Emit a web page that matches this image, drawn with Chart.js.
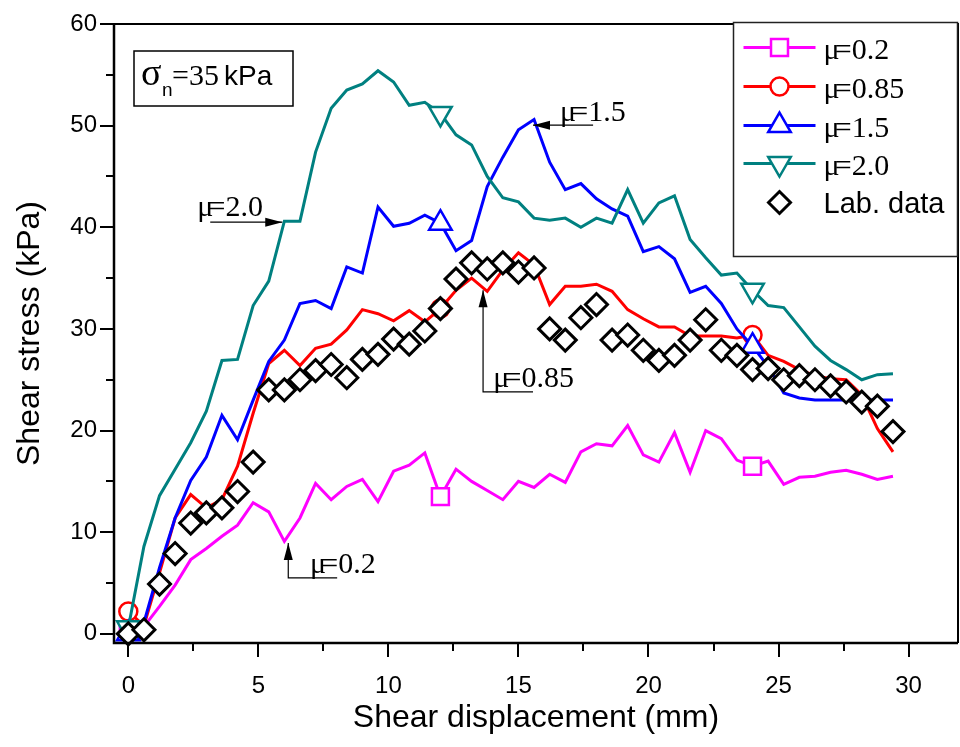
<!DOCTYPE html>
<html>
<head>
<meta charset="utf-8">
<title>Shear stress vs shear displacement</title>
<script src="https://cdn.jsdelivr.net/npm/chart.js@4.4.1/dist/chart.umd.min.js"></script>
<style>
  html, body { margin: 0; padding: 0; background: #fff; }
  #wrap { width: 960px; height: 747px; }
</style>
</head>
<body>
<div id="wrap"><canvas id="shearChart" width="960" height="747"></canvas></div>
<script>
// shear displacement (mm), same steps for every series
const displacement = [0, 0.6, 1.2, 1.8, 2.4, 3.0, 3.6, 4.2, 4.8, 5.4,
  6.0, 6.6, 7.2, 7.8, 8.4, 9.0, 9.6, 10.2, 10.8, 11.4,
  12.0, 12.6, 13.2, 13.8, 14.4, 15.0, 15.6, 16.2, 16.8, 17.4,
  18.0, 18.6, 19.2, 19.8, 20.4, 21.0, 21.6, 22.2, 22.8, 23.4,
  24.0, 24.6, 25.2, 25.8, 26.4, 27.0, 27.6, 28.2, 28.8, 29.4];

// shear stress (kPa)
const mu02 = [0.3, 0.7, 2.7, 4.8, 7.3, 8.4, 9.6, 10.7, 12.9, 12.0,
  9.1, 11.4, 14.8, 13.2, 14.5, 15.2, 13.0, 16.0, 16.6, 17.8,
  13.5, 16.2, 15.0, 14.1, 13.2, 15.0, 14.4, 15.7, 14.9, 17.9,
  18.7, 18.5, 20.5, 17.6, 16.9, 19.8, 15.9, 20.0, 19.2, 17.1,
  16.5, 17.0, 14.7, 15.4, 15.5, 15.9, 16.1, 15.7, 15.2, 15.5];
const mu085 = [2.2, 0.8, 6.0, 11.4, 13.7, 12.4, 13.2, 16.5, 21.7, 26.6,
  27.9, 26.4, 28.1, 28.5, 29.9, 31.9, 31.5, 30.8, 31.8, 30.7,
  32.0, 33.8, 35.0, 33.7, 35.8, 37.5, 36.3, 32.4, 34.2, 34.2,
  34.4, 33.7, 31.9, 31.0, 30.2, 30.2, 29.3, 29.3, 29.3, 29.1,
  29.4, 27.4, 26.8, 26.0, 25.4, 25.1, 25.0, 23.5, 20.2, 17.9];
const mu15 = [0, 1.1, 6.5, 11.4, 15.1, 17.4, 21.5, 19.1, 23.0, 26.8,
  28.9, 32.5, 32.8, 32.0, 36.1, 35.5, 42.0, 40.1, 40.4, 41.2,
  40.4, 37.7, 38.7, 44.0, 46.9, 49.6, 50.6, 46.4, 43.7, 44.3,
  42.8, 41.8, 41.1, 37.6, 38.1, 36.9, 33.6, 34.2, 32.5, 30.0,
  28.3, 26.3, 23.7, 23.2, 23.0, 23.0, 23.0, 23.0, 23.0, 23.0];
const mu20 = [0.6, 8.6, 13.6, 16.2, 18.8, 21.9, 26.9, 27.0, 32.3, 34.7,
  40.6, 40.6, 47.4, 51.7, 53.5, 54.1, 55.4, 54.3, 52.0, 52.3,
  51.2, 49.1, 48.1, 45.0, 42.9, 42.5, 40.9, 40.7, 40.9, 40.0,
  40.9, 40.4, 43.7, 40.4, 42.4, 43.1, 38.8, 37.0, 35.3, 35.5,
  33.8, 32.3, 32.1, 30.2, 28.3, 26.9, 26.0, 25.0, 25.5, 25.6];
const labData = [0, 0.4, 4.9, 7.9, 10.9, 11.9, 12.4, 14.0, 16.9, 24.0,
  24.0, 25.0, 25.9, 26.5, 25.2, 27.0, 27.5, 29.0, 28.5, 29.8,
  32.0, 34.9, 36.5, 35.9, 36.5, 35.6, 36.0, 30.0, 28.9, 31.1,
  32.4, 28.9, 29.4, 27.9, 26.9, 27.4, 28.9, 30.9, 27.9, 27.4,
  26.0, 26.1, 25.0, 25.4, 25.0, 24.4, 23.8, 22.8, 22.4, 19.9];

const xTicks = [0, 5, 10, 15, 20, 25, 30];
const yTicks = [0, 10, 20, 30, 40, 50, 60];

// callouts, in data units: label, text anchor, leader path (arrow at last point)
const callouts = [
  { label: 'μ=2.0', at: [2.65, 41.1], path: [[3.15, 40.5], [5.92, 40.5]] },
  { label: 'μ=1.5', at: [16.6, 50.5], path: [[17.87, 50.05], [15.56, 50.05]] },
  { label: 'μ=0.85', at: [14.03, 24.3], path: [[15.56, 23.8], [13.64, 23.8], [13.64, 33.8]] },
  { label: 'μ=0.2', at: [6.99, 5.97], path: [[8.03, 5.5], [6.15, 5.5], [6.15, 8.95]] }
];

const serif = '"Liberation Serif", "Times New Roman", serif';
const sans = '"Liberation Sans", Arial, sans-serif';

const toPoints = (ys) => ys.map((y, i) => ({ x: displacement[i], y: y }));
// model curves only carry a symbol every 20th point
const everyTwenty = (r) => (ctx) => (ctx.dataIndex % 20 === 0 ? r : 0);

const modelLine = (label, ys, color, style, r, rot) => ({
  label: label,
  data: toPoints(ys),
  borderColor: color,
  backgroundColor: '#fff',
  borderWidth: 3,
  pointStyle: style,
  pointRotation: rot || 0,
  pointRadius: everyTwenty(r),
  pointBorderWidth: 2.5,
  pointBackgroundColor: '#fff',
  pointBorderColor: color,
  tension: 0,
  clip: 12
});

// μ and = drawn overlapping, the way the original plot renders them
function muText(ctx, label, x, y) {
  ctx.font = '30px ' + serif;
  ctx.textAlign = 'left';
  ctx.textBaseline = 'alphabetic';
  ctx.fillStyle = '#000';
  ctx.fillText('μ', x, y);
  const w = ctx.measureText('μ').width;
  ctx.fillText(label.slice(1), x + w * 0.7, y);
}

// drop the label overhang padding so the plot box fills the canvas like the original
const noOverhang = (s) => {
  s.paddingLeft = 0; s.paddingRight = 0; s.paddingTop = 0; s.paddingBottom = 0;
};

const decorations = {
  id: 'decorations',
  afterDatasetsDraw(chart) {
    const ctx = chart.ctx;
    const { left, right, top, bottom } = chart.chartArea;
    const xs = chart.scales.x, ys = chart.scales.y;
    ctx.save();
    ctx.strokeStyle = '#000';
    ctx.lineWidth = 2;
    ctx.beginPath();
    for (let v = 0; v <= 60; v += 5) {
      const py = Math.round(ys.getPixelForValue(v));
      const len = v % 10 === 0 ? 14 : 8;
      ctx.moveTo(left - len, py); ctx.lineTo(left, py);
    }
    for (let v = 0; v <= 30; v += 2.5) {
      const px = Math.round(xs.getPixelForValue(v));
      const len = v % 5 === 0 ? 14 : 8;
      ctx.moveTo(px, bottom); ctx.lineTo(px, bottom + len);
    }
    ctx.stroke();
    // frame
    ctx.lineWidth = 2.5;
    ctx.beginPath();
    ctx.moveTo(left, top); ctx.lineTo(left, bottom); ctx.lineTo(right, bottom);
    ctx.stroke();
    ctx.lineWidth = 2;
    ctx.beginPath();
    ctx.moveTo(left, top); ctx.lineTo(right, top); ctx.lineTo(right, bottom);
    ctx.stroke();
    ctx.restore();
  },
  afterDraw(chart) {
    const ctx = chart.ctx;
    const { left, top, right } = chart.chartArea;
    const xs = chart.scales.x, ys = chart.scales.y;
    ctx.save();

    // callouts
    callouts.forEach(c => {
      const pts = c.path.map(p => [xs.getPixelForValue(p[0]), ys.getPixelForValue(p[1])]);
      ctx.strokeStyle = '#000';
      ctx.lineWidth = 1.2;
      ctx.beginPath();
      pts.forEach((p, i) => (i ? ctx.lineTo(p[0], p[1]) : ctx.moveTo(p[0], p[1])));
      ctx.stroke();
      const a = pts[pts.length - 2], b = pts[pts.length - 1];
      const ang = Math.atan2(b[1] - a[1], b[0] - a[0]);
      ctx.save();
      ctx.translate(b[0], b[1]);
      ctx.rotate(ang);
      ctx.beginPath();
      ctx.moveTo(0, 0); ctx.lineTo(-17, -4.5); ctx.lineTo(-17, 4.5);
      ctx.closePath();
      ctx.fillStyle = '#000';
      ctx.fill();
      ctx.restore();
      muText(ctx, c.label, xs.getPixelForValue(c.at[0]), ys.getPixelForValue(c.at[1]));
    });

    // normal stress box
    const bx = left + 20, by = top + 27;
    ctx.strokeStyle = '#000';
    ctx.lineWidth = 1.5;
    ctx.strokeRect(bx, by, 159, 55);
    ctx.fillStyle = '#000';
    ctx.textBaseline = 'alphabetic';
    ctx.textAlign = 'left';
    ctx.font = '38px ' + serif;
    ctx.fillText('σ', bx + 7, by + 34);
    ctx.font = '19px ' + sans;
    ctx.fillText('n', bx + 28, by + 45);
    ctx.font = '30px ' + serif;
    ctx.fillText('=35', bx + 38, by + 34);
    ctx.font = '28px ' + sans;
    ctx.fillText('kPa', bx + 90, by + 34);

    // legend, anchored to the top-right corner of the plot box
    const lw = 224, lh = 234;
    const lx = right - lw - 0.5, ly = top - 1.5;
    ctx.fillStyle = '#fff';
    ctx.fillRect(lx, ly, lw, lh);
    ctx.strokeStyle = '#222';
    ctx.lineWidth = 1.5;
    ctx.strokeRect(lx, ly, lw, lh);
    const rows = [25, 64, 103, 141, 180];
    const sx = lx + 10, mx = lx + 46, tx = lx + 90;
    chart.data.datasets.forEach((ds, i) => {
      const y = ly + rows[i];
      if (ds.showLine !== false) {
        ctx.strokeStyle = ds.borderColor;
        ctx.lineWidth = 3;
        ctx.beginPath();
        ctx.moveTo(sx, y); ctx.lineTo(sx + 72, y);
        ctx.stroke();
      }
      ctx.fillStyle = '#fff';
      ctx.strokeStyle = ds.pointBorderColor;
      ctx.lineWidth = ds.pointBorderWidth;
      Chart.helpers.drawPoint(ctx, { pointStyle: ds.pointStyle, rotation: ds.pointRotation || 0, radius: ds.legendRadius, borderWidth: ds.pointBorderWidth }, mx, y);
      if (ds.label.startsWith('μ')) {
        muText(ctx, ds.label, tx, y + 11);
      } else {
        ctx.fillStyle = '#000';
        ctx.font = '29px ' + sans;
        ctx.textAlign = 'left';
        ctx.textBaseline = 'alphabetic';
        ctx.fillText(ds.label, tx, y + 10);
      }
    });
    ctx.restore();
  }
};

const datasets = [
  Object.assign(modelLine('μ=0.2', mu02, '#ff00ff', 'rect', 12), { order: 4, legendRadius: 12 }),
  Object.assign(modelLine('μ=0.85', mu085, '#ff0000', 'circle', 9), { order: 3, legendRadius: 9 }),
  Object.assign(modelLine('μ=1.5', mu15, '#0000ff', 'triangle', 13), { order: 2, legendRadius: 13 }),
  Object.assign(modelLine('μ=2.0', mu20, '#008080', 'triangle', 13, 180), { order: 1, legendRadius: 13 }),
  {
    label: 'Lab. data',
    data: toPoints(labData),
    showLine: false,
    pointStyle: 'rectRot',
    pointRadius: 11,
    pointBorderWidth: 3,
    pointBorderColor: '#000',
    pointBackgroundColor: '#fff',
    borderColor: '#000',
    backgroundColor: '#fff',
    order: 0,
    legendRadius: 11,
    clip: 12
  }
];

new Chart(document.getElementById('shearChart'), {
  type: 'line',
  data: { datasets: datasets },
  options: {
    responsive: false,
    animation: false,
    layout: { autoPadding: false, padding: { top: 24, right: 2, left: 0, bottom: 0 } },
    plugins: { legend: { display: false }, tooltip: { enabled: false } },
    scales: {
      x: {
        type: 'linear',
        min: -0.55,
        max: 31.9,
        afterFit: (s) => { s.height = 104; noOverhang(s); },
        afterBuildTicks: (s) => { s.ticks = xTicks.map(v => ({ value: v })); },
        grid: { display: false, drawTicks: false },
        border: { display: false },
        ticks: { padding: 29, color: '#000', font: { family: sans, size: 24 } },
        title: {
          display: true,
          text: 'Shear displacement (mm)',
          color: '#000',
          font: { family: sans, size: 32 },
          padding: { top: 0, bottom: 10 }
        }
      },
      y: {
        type: 'linear',
        min: -0.9,
        max: 60,
        afterFit: (s) => { s.width = 114; noOverhang(s); },
        afterBuildTicks: (s) => { s.ticks = yTicks.map(v => ({ value: v })); },
        grid: { display: false, drawTicks: false },
        border: { display: false },
        ticks: { padding: 17, color: '#000', font: { family: sans, size: 24 } },
        title: {
          display: true,
          text: 'Shear stress (kPa)',
          color: '#000',
          font: { family: sans, size: 32 },
          padding: { top: 11, bottom: 0 }
        }
      }
    }
  },
  plugins: [decorations]
});
</script>
</body>
</html>
